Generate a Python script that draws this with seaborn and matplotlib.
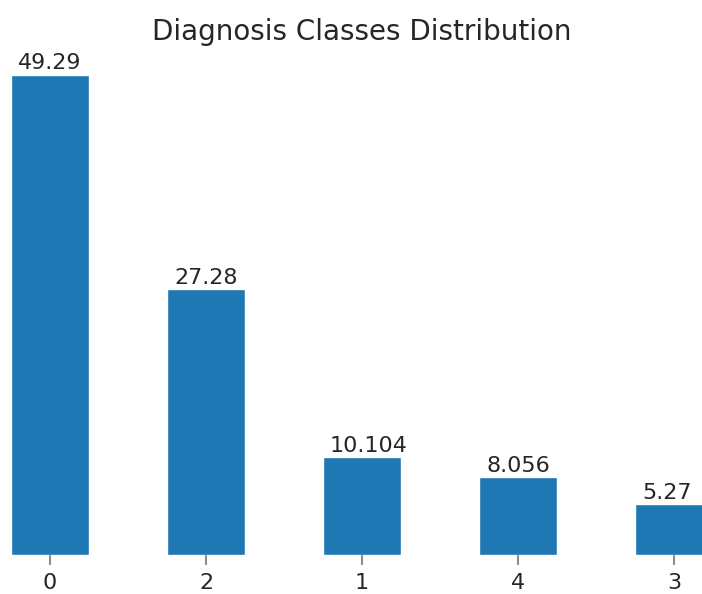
import matplotlib
matplotlib.use("Agg")
import matplotlib.pyplot as plt
import seaborn as sns
import pandas as pd

# Diagnosis class share (%), in the order shown
classes = ["0", "2", "1", "4", "3"]
percent = [49.29, 27.28, 10.104, 8.056, 5.27]
value_text = ["49.29", "27.28", "10.104", "8.056", "5.27"]

df = pd.DataFrame({"diagnosis": classes, "percent": percent})

sns.set_style("white")
plt.rcParams["font.family"] = ["DejaVu Sans"]

fig = plt.figure(figsize=(7.02, 5.94), dpi=100)
ax = fig.add_axes([0.0157, 0.0656, 1.0, 0.8485])

sns.barplot(data=df, x="diagnosis", y="percent", order=classes,
            color="#1f77b4", saturation=1, width=0.5, ax=ax)

for p, txt in zip(ax.patches, value_text):
    ax.annotate(txt, (p.get_x() + 0.045, p.get_height() * 1.005),
                ha="left", va="bottom", fontsize=16, color="#262626")

ax.set_xlim(-0.25, 4.25)
ax.set_ylim(0, max(percent) * 1.05)
ax.set_title("Diagnosis Classes Distribution", fontsize=20, color="#262626", pad=8)
ax.set_xlabel("")
ax.set_ylabel("")
ax.set_yticks([])
ax.tick_params(axis="x", labelsize=16, length=7, width=1.2, color="#777777",
               labelcolor="#262626", bottom=True, pad=6)
for s in ax.spines.values():
    s.set_visible(False)

fig.savefig("out.png", dpi=100)
